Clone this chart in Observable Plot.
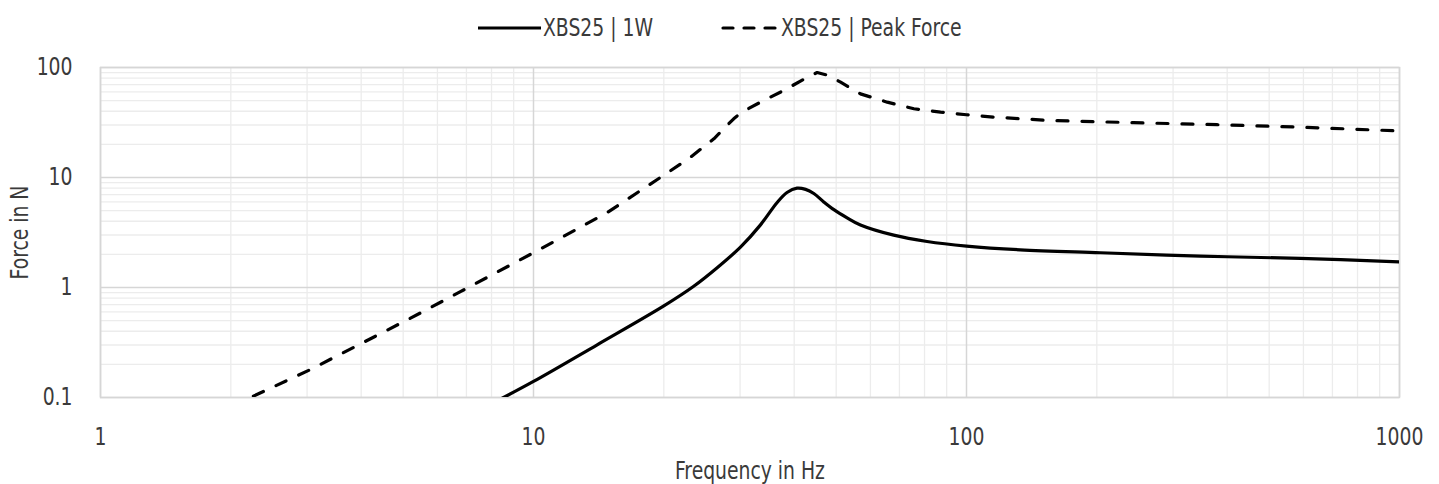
<!DOCTYPE html>
<html>
<head>
<meta charset="utf-8">
<script src="https://cdn.jsdelivr.net/npm/d3@7"></script>
<script src="https://cdn.jsdelivr.net/npm/@observablehq/plot@0.6"></script>
<style>
  html, body { margin: 0; padding: 0; background: #ffffff; }
  body { width: 1439px; height: 484px; overflow: hidden;
         font-family: "Liberation Sans Narrow", "DejaVu Sans Condensed", "Roboto Condensed", "Open Sans", sans-serif;
         font-stretch: condensed; color: #3a3a3a; }
  #legend { height: 52px; display: flex; justify-content: center; align-items: center; font-size: 24px; padding-top: 4px; box-sizing: border-box; }
  .item { display: flex; align-items: center; }
  .item svg { display: block; margin-right: 2px; }
  .item span { display: inline-block; transform: scaleX(0.87); transform-origin: 0 50%; white-space: nowrap; }
  .item + .item { margin-left: 68px; }
</style>
</head>
<body>
<div id="legend"></div>
<div id="chart"></div>
<script>
// ---- data ----
const seriesNames = ["XBS25 | 1W", "XBS25 | Peak Force"];

const freq1W  = [8.0, 8.4, 10, 14, 20, 23.4, 26.6, 30.1, 33.4, 36.5, 38.5, 40.6, 42.5, 44.4, 46.8, 49.4, 53, 56.9, 67.9, 81.1, 100, 133, 204, 347, 590, 1000];
const force1W = [0.088, 0.097, 0.14, 0.30, 0.68, 1.02, 1.52, 2.34, 3.69, 5.9, 7.3, 8.0, 7.8, 7.15, 6.0, 5.1, 4.3, 3.7, 2.99, 2.62, 2.38, 2.2, 2.07, 1.93, 1.84, 1.71];

const freqPeak  = [2.0, 2.22, 3.05, 5.2, 6.78, 10, 14.8, 20.5, 23.05, 26.1, 29.0, 30.3, 33.4, 37.8, 42.9, 45.2, 48.1, 51.2, 56.9, 65.6, 75.6, 87.1, 100, 115.6, 156, 243, 379, 590, 1000];
const forcePeak = [0.082, 0.1, 0.179, 0.526, 0.916, 2.07, 4.8, 11.2, 15.3, 22.5, 34.2, 39.3, 48.3, 61.7, 81.5, 90, 84.5, 73.5, 57.6, 48.4, 42.2, 39.3, 37.2, 35.4, 33.0, 31.5, 30.2, 28.7, 26.5];

const xTickLabels = [1, 10, 100, 1000];
const yTickLabels = [0.1, 1, 10, 100];

// ---- build tables ----
const data1W = freq1W.map((f, i) => ({f, v: force1W[i]}));
const dataPeak = freqPeak.map((f, i) => ({f, v: forcePeak[i]}));

const minor = (majors) => {
  const out = [];
  for (let k = 0; k < majors.length - 1; k++) for (let m = 2; m <= 9; m++) out.push(majors[k] * m);
  return out;
};
const xMinor = minor(xTickLabels);
const yMinor = minor(yTickLabels);

const FONT = '"Liberation Sans Narrow", "DejaVu Sans Condensed", "Roboto Condensed", "Open Sans", sans-serif';
const SQUEEZE = 0.87;

// ---- legend ----
const legend = document.getElementById("legend");
const swatches = [
  {w: 63, dash: null},
  {w: 58, dash: "10,11"}
];
const spans = [];
seriesNames.forEach((name, i) => {
  const item = document.createElement("div");
  item.className = "item";
  const sw = swatches[i];
  const svg = d3.create("svg").attr("width", sw.w).attr("height", 10);
  const ln = svg.append("line").attr("x1", i ? 2 : 0).attr("x2", i ? sw.w - 2 : sw.w).attr("y1", 5).attr("y2", 5)
    .attr("stroke", "#000").attr("stroke-width", 3.2);
  if (sw.dash) ln.attr("stroke-dasharray", sw.dash).attr("stroke-linecap", "round");
  item.appendChild(svg.node());
  const span = document.createElement("span");
  span.textContent = name;
  item.appendChild(span);
  legend.appendChild(item);
  spans.push(span);
});
spans.forEach(s => { const w = s.getBoundingClientRect().width / SQUEEZE; s.style.marginRight = (-(1 - SQUEEZE) * w) + "px"; });

// ---- chart ----
const chart = Plot.plot({
  width: 1439,
  height: 432,
  marginTop: 15,
  marginLeft: 100,
  marginRight: 40,
  marginBottom: 87,
  style: {fontFamily: FONT, fontSize: "24px", color: "#3a3a3a", background: "#fff", fontStretch: "condensed"},
  x: {type: "log", domain: [1, 1000], ticks: xTickLabels, tickFormat: d => String(d), tickSize: 0, tickPadding: 30,
      label: "Frequency in Hz", labelAnchor: "center", labelOffset: 81, labelArrow: "none"},
  y: {type: "log", domain: [0.1, 100], ticks: yTickLabels, tickFormat: d => String(d), tickSize: 0, tickPadding: 28,
      label: "Force in N", labelAnchor: "center", labelOffset: 90, labelArrow: "none"},
  marks: [
    Plot.ruleX(xMinor, {stroke: "#ececec", strokeWidth: 1.3}),
    Plot.ruleY(yMinor, {stroke: "#ececec", strokeWidth: 1.3}),
    Plot.ruleX(xTickLabels, {stroke: "#d6d6d6", strokeWidth: 1.5}),
    Plot.ruleY(yTickLabels, {stroke: "#d6d6d6", strokeWidth: 1.5}),
    Plot.frame({stroke: "#d6d6d6", strokeWidth: 1.5}),
    Plot.line(data1W, {x: "f", y: "v", curve: "catmull-rom", stroke: "#000", strokeWidth: 3.2, clip: true}),
    Plot.line(dataPeak, {x: "f", y: "v", curve: "linear", stroke: "#000", strokeWidth: 3.2,
      strokeDasharray: "11,14", strokeLinecap: "round", strokeLinejoin: "round", clip: true})
  ]
});
// condense the axis texts horizontally around their anchor points
chart.querySelectorAll("text").forEach(t => {
  const tr = t.getAttribute("transform");
  if (tr !== null) t.setAttribute("transform", tr + ` scale(${SQUEEZE},1)`);
});
document.getElementById("chart").appendChild(chart);
</script>
</body>
</html>
